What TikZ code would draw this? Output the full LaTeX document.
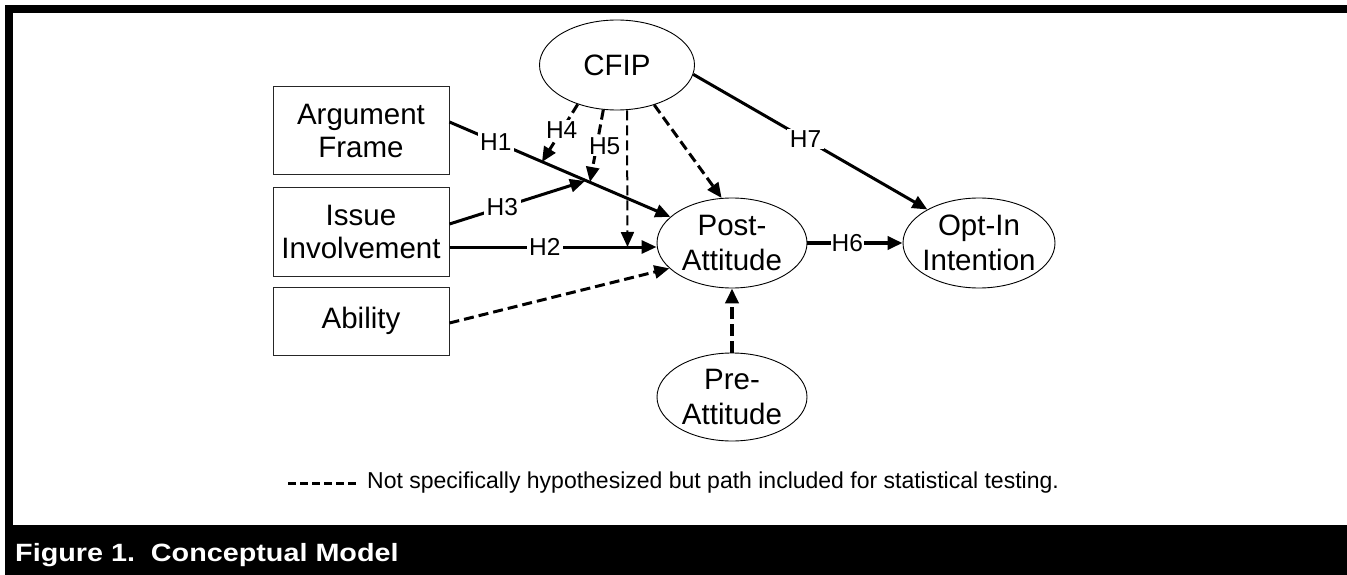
\documentclass[tikz,border=0pt]{standalone}
\usepackage{fontspec}
\setmainfont{Liberation Sans}
\usetikzlibrary{arrows.meta,calc,shapes.geometric}
\begin{document}
\begin{tikzpicture}[x=1pt,y=-1pt,
  box/.style={draw=black!85, line width=1pt, minimum width=176pt, align=center,
    font=\fontsize{29.5}{33}\selectfont, inner sep=0pt},
  ell/.style={draw, ellipse, line width=0.9pt, align=center,
    font=\fontsize{29.5}{35}\selectfont, inner xsep=-5pt, inner ysep=0pt,
    minimum width=152pt, minimum height=90pt},
  arr/.style={line width=3pt, -{Triangle[length=15pt,width=13pt]}},
  darr/.style={arr, dash pattern=on 10pt off 5pt},
  lbl/.style={fill=white, inner xsep=2.5pt, inner ysep=1.5pt, font=\fontsize{24.5}{24.5}\selectfont},
  bar/.style={fill=black}
]
\useasboundingbox (0,0) rectangle (1347,575);
% frame
\fill[bar] (5,5) rectangle (1347,13);
\fill[bar] (5,5) rectangle (13,525);
\fill[bar] (5,525) rectangle (1347,575);

% nodes
\node[box, minimum height=88pt] (af) at (361,131) {Argument\\Frame};
\node[box, minimum height=89pt] (ii) at (361,231.5) {Issue\\Involvement};
\node[box, minimum height=68pt] (ab) at (361,321) {Ability};
\node[ell, minimum width=155pt] (cfip) at (617,65) {CFIP};
\node[ell, minimum width=150pt] (post) at (732,243) {Post-\\Attitude};
\node[ell, minimum width=152pt] (opt) at (979,243) {Opt-In\\Intention};
\node[ell, minimum width=150pt, minimum height=88pt] (pre) at (732,397) {Pre-\\Attitude};

% points on other paths
\coordinate (m4) at (542,162);
\coordinate (m5) at (590,182);
\coordinate (m3) at (585,181);
\coordinate (m2) at (627.5,247);

% connectors
\draw[arr] ([yshift=9pt]af.east) -- node[lbl, pos=0.21]{H1} (post.157);
\draw[arr] ([yshift=-15.5pt]ii.east) -- node[lbl, pos=0.46]{H2} (post.west |- m2);
\draw[darr, line width=2pt] ([xshift=10pt]cfip.south) -- (m2);
\draw[arr] ([yshift=7.5pt]ii.east) -- node[lbl, pos=0.39]{H3} (m3);
\draw[darr] (cfip.225) -- node[lbl, pos=0.45]{H4} (m4);
\draw[darr] (cfip.253) -- node[lbl, pos=0.5, xshift=8pt]{H5} (m5);
\draw[darr] (cfip.313) -- (post.103);
\draw[darr] ([yshift=-2pt]ab.east) -- (post.202);
\draw[arr] (cfip.353) -- node[lbl, pos=0.48]{H7} (opt.147);
\draw[arr, line width=4.5pt] (post.east) -- node[lbl, pos=0.42, inner xsep=1pt]{H6} (opt.west);
\draw[darr, line width=4.5pt, dash pattern=on 12pt off 5pt] (pre.north) -- (post.south);

% legend
\coordinate (lg1) at (288,483);
\coordinate (lg2) at (356,483);
\draw[line width=3pt, dash pattern=on 8pt off 4pt] (lg1) -- (lg2);
\node[anchor=base west, inner sep=0pt, font=\fontsize{23}{23}\selectfont] (legend) at (367,488)
  {Not specifically hypothesized but path included for statistical testing.};

% caption
\node[anchor=base west, inner sep=0pt, text=white, font=\fontsize{25}{25}\selectfont\bfseries] (cap) at (15,561)
  {\scalebox{1.15}[1]{Figure 1.\ \ Conceptual Model}};
\end{tikzpicture}
\end{document}
